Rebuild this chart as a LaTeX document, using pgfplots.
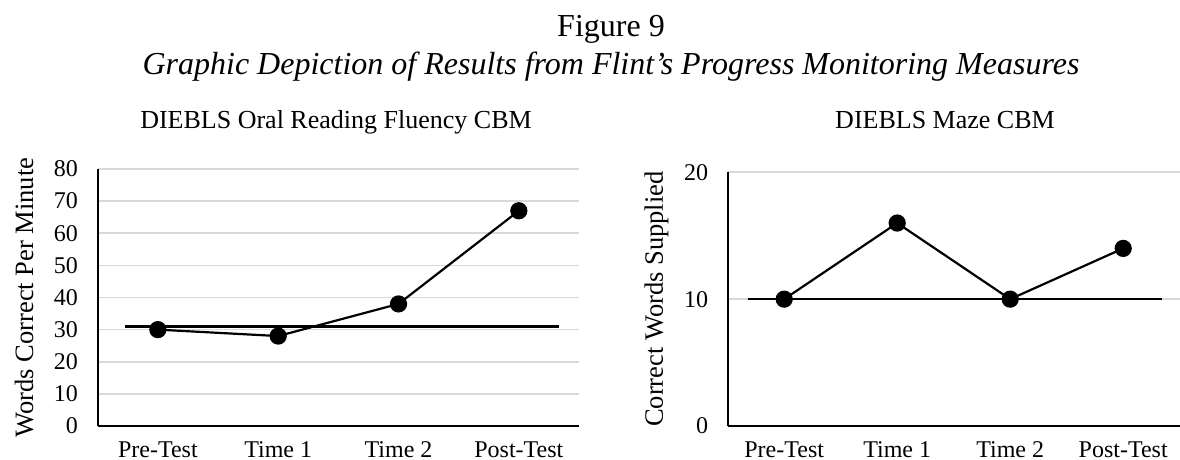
\documentclass[border=0pt]{standalone}
\usepackage{fontspec}
\setmainfont{Liberation Serif}
\usepackage{pgfplots}
\pgfplotsset{compat=1.18}
\definecolor{gridgray}{HTML}{D9D9D9}
\pgfplotsset{
  mystyle/.style={
    scale only axis,
    anchor=south west,
    xmin=-0.5, xmax=3.5,
    xtick={0,1,2,3},
    xticklabels={Pre-Test,Time 1,Time 2,Post-Test},
    axis lines*=left,
    axis line style={black, line width=1.8pt},
    ymajorgrids,
    grid style={gridgray, line width=1.6pt},
    major tick length=0pt,
    tick style={draw=none},
    /pgf/number format/assume math mode=true,
    ticklabel style={font=\fontsize{24}{28}\selectfont},
    yticklabel style={anchor=east, inner sep=0pt, xshift=-19.5pt},
    xticklabel style={anchor=base, inner sep=0pt, yshift=-31pt},
    label style={font=\fontsize{26.5}{30}\selectfont},
    clip=false,
  }
}
\begin{document}
\begin{tikzpicture}[x=1pt,y=1pt]
\path[use as bounding box] (0,0) rectangle (1180,460);
\node[anchor=base, font=\fontsize{32}{38}\selectfont] at (611,423.3) {Figure 9};
\node[anchor=base, font=\fontsize{32}{38}\selectfont\itshape] at (611,385) {Graphic Depiction of Results from Flint’s Progress Monitoring Measures};
\node[anchor=base, font=\fontsize{26}{30}\selectfont] at (336,331) {DIEBLS Oral Reading Fluency CBM};
\node[anchor=base, font=\fontsize{26}{30}\selectfont] at (945,331) {DIEBLS Maze CBM};

\begin{axis}[mystyle,
  at={(97.7pt,34pt)}, width=481.3pt, height=257pt,
  ymin=0, ymax=80, ytick={0,10,...,80},
  ylabel={Words Correct Per Minute},
  ylabel style={at={(axis description cs:-0.153,0.5)}, anchor=center},
]
\addplot[black, line width=2.6pt] coordinates {(-0.27,31) (3.335,31)};
\addplot[black, line width=2.2pt, mark=*, mark size=7.5pt, mark options={solid, fill=black}] coordinates {(0,30) (1,28) (2,38) (3,67)};
\end{axis}

\begin{axis}[mystyle,
  at={(727.7pt,34pt)}, width=452pt, height=253.7pt,
  ymin=0, ymax=20, ytick={0,10,20},
  ylabel={Correct Words Supplied},
  ylabel style={at={(axis description cs:-0.1575,0.5)}, anchor=center},
]
\addplot[black, line width=2.6pt] coordinates {(-0.32,10) (3.34,10)};
\addplot[black, line width=2.2pt, mark=*, mark size=7.5pt, mark options={solid, fill=black}] coordinates {(0,10) (1,16) (2,10) (3,14)};
\end{axis}
\end{tikzpicture}
\end{document}
